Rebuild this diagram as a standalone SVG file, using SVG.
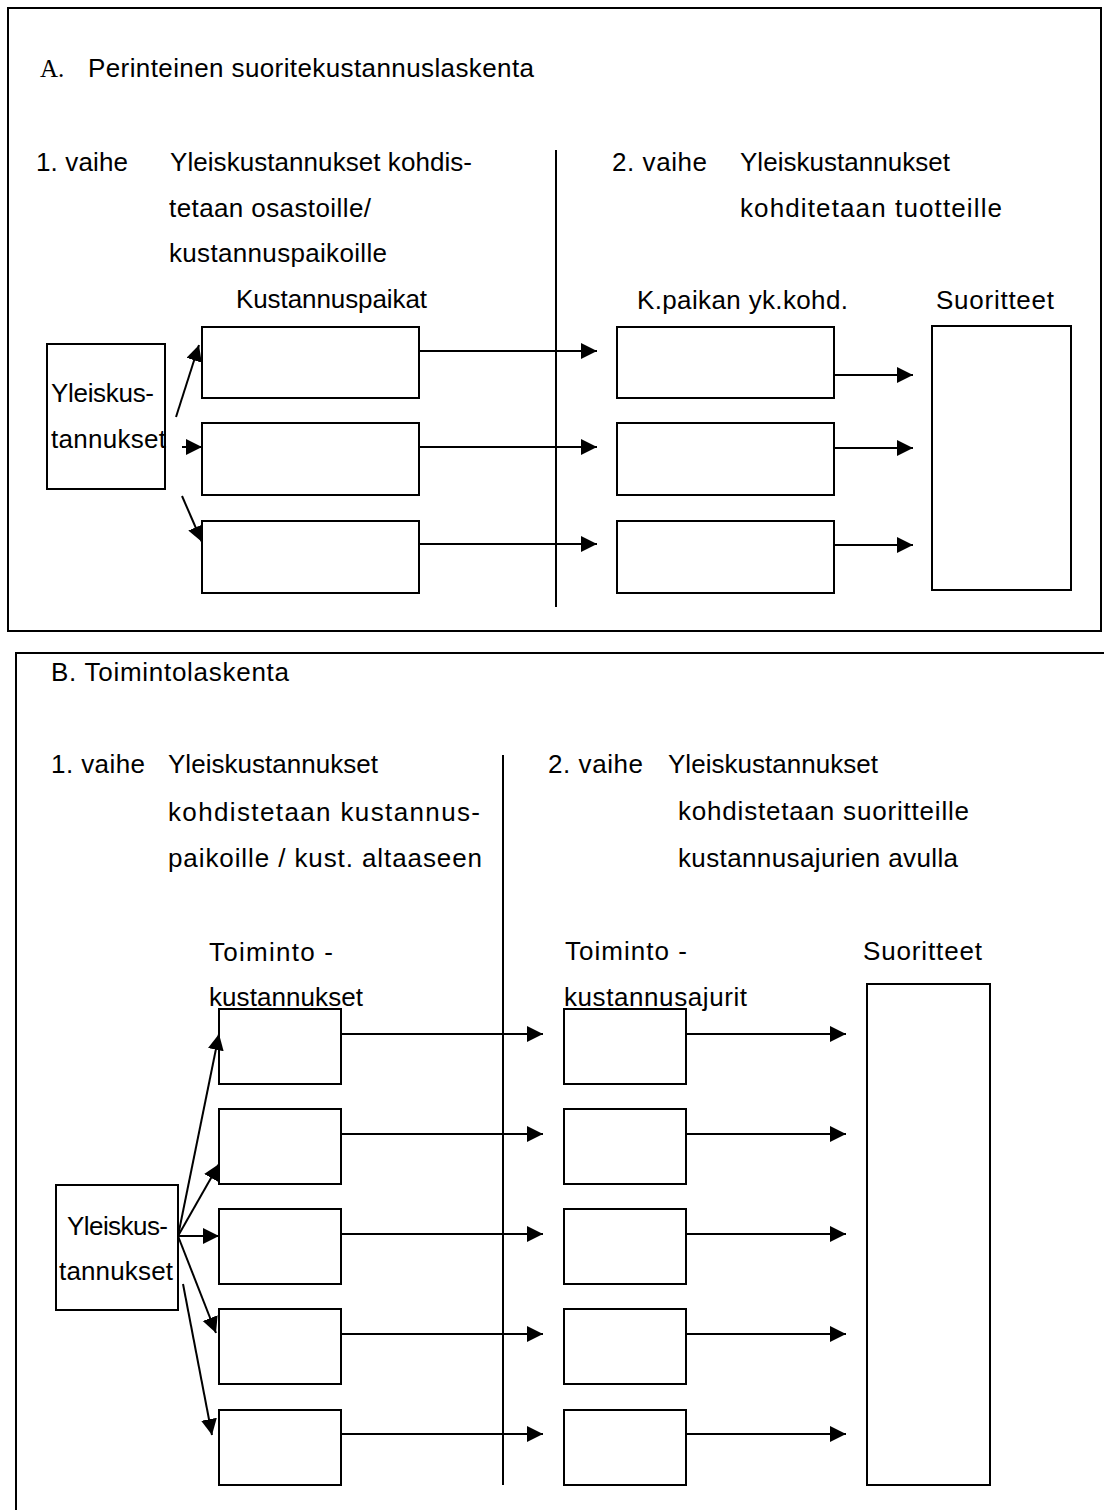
<svg xmlns="http://www.w3.org/2000/svg" width="1104" height="1510" viewBox="0 0 1104 1510">
<style>
  text { font-family: "Liberation Sans", Arial, sans-serif; font-size: 26px; fill: #000; }
  .serif { font-family: "Liberation Serif", "Times New Roman", serif; font-size: 25px; }
  .box { fill: #fff; stroke: #000; stroke-width: 2; }
  .frame { fill: none; stroke: #000; stroke-width: 2; }
  .conn { stroke: #000; stroke-width: 2; fill: none; }
  .arr { stroke: #000; stroke-width: 2; fill: none; marker-end: url(#ah); }
</style>
<defs>
  <marker id="ah" markerUnits="userSpaceOnUse" markerWidth="18" markerHeight="18" refX="16" refY="8" orient="auto">
    <path d="M0,0 L16,8 L0,16 Z" fill="#000"/>
  </marker>
</defs>
<rect width="1104" height="1510" fill="#fff"/>

<!-- Section A -->
<g id="sectionA">
  <rect class="frame" x="8" y="8" width="1093" height="623"/>
  <text class="serif" x="40" y="77">A.</text>
  <text x="88" y="77" textLength="446">Perinteinen suoritekustannuslaskenta</text>
  <text x="36" y="171" textLength="92">1. vaihe</text>
  <text x="170" y="171" textLength="302">Yleiskustannukset kohdis-</text>
  <text x="169" y="217" textLength="202">tetaan osastoille/</text>
  <text x="169" y="262" textLength="218">kustannuspaikoille</text>
  <text x="236" y="308" textLength="191">Kustannuspaikat</text>
  <text x="612" y="171" textLength="95">2. vaihe</text>
  <text x="740" y="171" textLength="210">Yleiskustannukset</text>
  <text x="740" y="217" textLength="262">kohditetaan tuotteille</text>
  <text x="637" y="309" textLength="211">K.paikan yk.kohd.</text>
  <text x="936" y="309" textLength="118">Suoritteet</text>
</g>

<g id="dividerA"><line class="conn" x1="556" y1="150" x2="556" y2="607"/></g>

<g id="A_yk">
  <rect class="box" x="47" y="344" width="118" height="145"/>
  <text x="51" y="402" textLength="103">Yleiskus-</text>
  <text x="51" y="448" textLength="115">tannukset</text>
</g>
<g id="A_kp1"><rect class="box" x="202" y="327" width="217" height="71"/></g>
<g id="A_kp2"><rect class="box" x="202" y="423" width="217" height="72"/></g>
<g id="A_kp3"><rect class="box" x="202" y="521" width="217" height="72"/></g>
<g id="A_kk1"><rect class="box" x="617" y="327" width="217" height="71"/></g>
<g id="A_kk2"><rect class="box" x="617" y="423" width="217" height="72"/></g>
<g id="A_kk3"><rect class="box" x="617" y="521" width="217" height="72"/></g>
<g id="A_suor"><rect class="box" x="932" y="326" width="139" height="264"/></g>

<g id="connectorsA">
  <line class="arr" x1="176" y1="417" x2="199" y2="345"/>
  <line class="arr" x1="182" y1="447" x2="202" y2="447"/>
  <line class="arr" x1="182" y1="496" x2="202" y2="542"/>
  <line class="arr" x1="419" y1="351" x2="597" y2="351"/>
  <line class="arr" x1="419" y1="447" x2="597" y2="447"/>
  <line class="arr" x1="419" y1="544" x2="597" y2="544"/>
  <line class="arr" x1="834" y1="375" x2="913" y2="375"/>
  <line class="arr" x1="834" y1="448" x2="913" y2="448"/>
  <line class="arr" x1="834" y1="545" x2="913" y2="545"/>
</g>

<!-- Section B -->
<g id="sectionB">
  <path class="frame" d="M16,1512 V653 H1106"/>
  <text x="51" y="681" textLength="238">B. Toimintolaskenta</text>
  <text x="51" y="773" textLength="94">1. vaihe</text>
  <text x="168" y="773" textLength="210">Yleiskustannukset</text>
  <text x="168" y="821" textLength="312">kohdistetaan kustannus-</text>
  <text x="168" y="867" textLength="314">paikoille / kust. altaaseen</text>
  <text x="209" y="961" textLength="124">Toiminto -</text>
  <text x="209" y="1006" textLength="154">kustannukset</text>
  <text x="548" y="773" textLength="95">2. vaihe</text>
  <text x="668" y="773" textLength="210">Yleiskustannukset</text>
  <text x="678" y="820" textLength="291">kohdistetaan suoritteille</text>
  <text x="678" y="867" textLength="280">kustannusajurien avulla</text>
  <text x="565" y="960" textLength="122">Toiminto -</text>
  <text x="564" y="1006" textLength="183">kustannusajurit</text>
  <text x="863" y="960" textLength="119">Suoritteet</text>
</g>

<g id="dividerB"><line class="conn" x1="503" y1="755" x2="503" y2="1485"/></g>

<g id="B_yk">
  <rect class="box" x="56" y="1185" width="122" height="125"/>
  <text x="67" y="1235" textLength="101">Yleiskus-</text>
  <text x="59" y="1280" textLength="114">tannukset</text>
</g>
<g id="B_tk1"><rect class="box" x="219" y="1009" width="122" height="75"/></g>
<g id="B_tk2"><rect class="box" x="219" y="1109" width="122" height="75"/></g>
<g id="B_tk3"><rect class="box" x="219" y="1209" width="122" height="75"/></g>
<g id="B_tk4"><rect class="box" x="219" y="1309" width="122" height="75"/></g>
<g id="B_tk5"><rect class="box" x="219" y="1410" width="122" height="75"/></g>
<g id="B_ka1"><rect class="box" x="564" y="1009" width="122" height="75"/></g>
<g id="B_ka2"><rect class="box" x="564" y="1109" width="122" height="75"/></g>
<g id="B_ka3"><rect class="box" x="564" y="1209" width="122" height="75"/></g>
<g id="B_ka4"><rect class="box" x="564" y="1309" width="122" height="75"/></g>
<g id="B_ka5"><rect class="box" x="564" y="1410" width="122" height="75"/></g>
<g id="B_suor"><rect class="box" x="867" y="984" width="123" height="501"/></g>

<g id="connectorsB">
  <line class="arr" x1="178" y1="1236" x2="219" y2="1034"/>
  <line class="arr" x1="178" y1="1236" x2="219" y2="1164"/>
  <line class="arr" x1="178" y1="1236" x2="219" y2="1236"/>
  <line class="arr" x1="178" y1="1236" x2="216" y2="1333"/>
  <line class="arr" x1="183" y1="1284" x2="212" y2="1435"/>
  <line class="arr" x1="341" y1="1034" x2="543" y2="1034"/>
  <line class="arr" x1="341" y1="1134" x2="543" y2="1134"/>
  <line class="arr" x1="341" y1="1234" x2="543" y2="1234"/>
  <line class="arr" x1="341" y1="1334" x2="543" y2="1334"/>
  <line class="arr" x1="341" y1="1434" x2="543" y2="1434"/>
  <line class="arr" x1="686" y1="1034" x2="846" y2="1034"/>
  <line class="arr" x1="686" y1="1134" x2="846" y2="1134"/>
  <line class="arr" x1="686" y1="1234" x2="846" y2="1234"/>
  <line class="arr" x1="686" y1="1334" x2="846" y2="1334"/>
  <line class="arr" x1="686" y1="1434" x2="846" y2="1434"/>
</g>
</svg>
